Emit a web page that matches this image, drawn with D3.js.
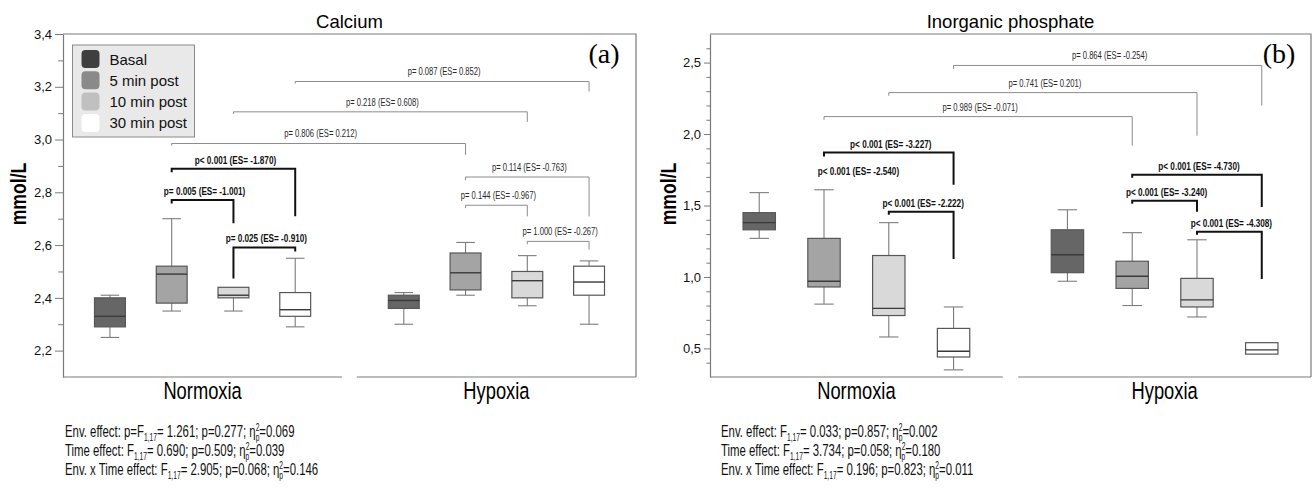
<!DOCTYPE html>
<html>
<head>
<meta charset="utf-8">
<script src="https://cdn.jsdelivr.net/npm/d3@7"></script>
<style>
  body { margin: 0; background: #fff; }
  svg { display: block; font-family: "Liberation Sans", Arial, sans-serif; }
</style>
</head>
<body>
<svg id="fig" width="1313" height="491"></svg>
<script>
const timePoints = ["Basal", "5 min post", "10 min post", "30 min post"];
const conditions = ["Normoxia", "Hypoxia"];

// box stats for each time point: [min, q1, median, q3, max]
const calciumNormoxia = [
  [2.25, 2.29, 2.33, 2.40, 2.41],
  [2.35, 2.38, 2.49, 2.52, 2.70],
  [2.35, 2.40, 2.41, 2.44, 2.44],
  [2.29, 2.33, 2.355, 2.42, 2.55]
];
const calciumHypoxia = [
  [2.30, 2.36, 2.39, 2.41, 2.42],
  [2.41, 2.43, 2.495, 2.57, 2.61],
  [2.37, 2.40, 2.465, 2.50, 2.56],
  [2.30, 2.41, 2.46, 2.52, 2.54]
];
const phosphateNormoxia = [
  [1.27, 1.33, 1.38, 1.45, 1.59],
  [0.81, 0.93, 0.97, 1.27, 1.61],
  [0.58, 0.73, 0.78, 1.15, 1.38],
  [0.35, 0.44, 0.48, 0.64, 0.79]
];
const phosphateHypoxia = [
  [0.97, 1.03, 1.155, 1.33, 1.47],
  [0.80, 0.92, 1.005, 1.11, 1.31],
  [0.72, 0.79, 0.84, 0.99, 1.26],
  [0.46, 0.46, 0.49, 0.54, 0.54]
];

const calciumDomain = [2.1, 3.4];
const calciumTicks = [2.2, 2.4, 2.6, 2.8, 3.0, 3.2, 3.4];
const calciumTickLabels = ["2,2", "2,4", "2,6", "2,8", "3,0", "3,2", "3,4"];
const calciumMinor = [2.3, 2.5, 2.7, 2.9, 3.1, 3.3];

const phosphateDomain = [0.3, 2.7];
const phosphateTicks = [0.5, 1.0, 1.5, 2.0, 2.5];
const phosphateTickLabels = ["0,5", "1,0", "1,5", "2,0", "2,5"];
const phosphateMinor = [0.4, 0.6, 0.7, 0.8, 0.9, 1.1, 1.2, 1.3, 1.4, 1.6, 1.7, 1.8, 1.9,
  2.1, 2.2, 2.3, 2.4, 2.6];

// comparisons: from/to = [condition, time point]; at/left/right = bracket heights (mmol/L)
const calciumBrackets = [
  { from: [0, 3], to: [1, 3], at: 3.220, left: 3.212, right: 3.182, label: "p= 0.087 (ES= 0.852)" },
  { from: [0, 2], to: [1, 2], at: 3.105, left: 3.097, right: 3.067, label: "p= 0.218 (ES= 0.608)" },
  { from: [0, 1], to: [1, 1], at: 2.985, left: 2.977, right: 2.942, label: "p= 0.806 (ES= 0.212)" },
  { from: [0, 1], to: [0, 3], at: 2.889, left: 2.876, right: 2.709, label: "p< 0.001 (ES= -1.870)", bold: true },
  { from: [0, 1], to: [0, 2], at: 2.771, left: 2.758, right: 2.683, label: "p= 0.005 (ES= -1.001)", bold: true },
  { from: [0, 2], to: [0, 3], at: 2.591, left: 2.473, right: 2.576, label: "p= 0.025 (ES= -0.910)", bold: true },
  { from: [1, 1], to: [1, 3], at: 2.858, left: 2.846, right: 2.709, label: "p= 0.114 (ES= -0.763)" },
  { from: [1, 1], to: [1, 2], at: 2.751, left: 2.740, right: 2.709, label: "p= 0.144 (ES= -0.967)" },
  { from: [1, 2], to: [1, 3], at: 2.614, left: 2.603, right: 2.583, label: "p= 1.000 (ES= -0.267)" }
];
const phosphateBrackets = [
  { from: [0, 3], to: [1, 3], at: 2.480, left: 2.455, right: 2.199, label: "p= 0.864 (ES= -0.254)" },
  { from: [0, 2], to: [1, 2], at: 2.290, left: 2.268, right: 1.989, label: "p= 0.741 (ES= 0.201)" },
  { from: [0, 1], to: [1, 1], at: 2.122, left: 2.100, right: 1.919, label: "p= 0.989 (ES= -0.071)" },
  { from: [0, 1], to: [0, 3], at: 1.870, left: 1.842, right: 1.645, label: "p< 0.001 (ES= -3.227)", bold: true },
  { from: [0, 1], to: [0, 2], at: 1.680, label: "p< 0.001 (ES= -2.540)", bold: true, noLine: true },
  { from: [0, 2], to: [0, 3], at: 1.456, left: 1.435, right: 1.126, label: "p< 0.001 (ES= -2.222)", bold: true },
  { from: [1, 1], to: [1, 3], at: 1.715, left: 1.694, right: 1.490, label: "p< 0.001 (ES= -4.730)", bold: true },
  { from: [1, 1], to: [1, 2], at: 1.533, left: 1.512, right: 1.456, label: "p< 0.001 (ES= -3.240)", bold: true },
  { from: [1, 2], to: [1, 3], at: 1.316, left: 1.295, right: 0.986, label: "p< 0.001 (ES= -4.308)", bold: true }
];

// {..} = subscript, [a|b] = stacked super/subscript
const calciumStats = [
  "Env. effect: p=F{1,17}= 1.261; p=0.277; η[2|p]=0.069",
  "Time effect: F{1,17}= 0.690; p=0.509; η[2|p]=0.039",
  "Env. x Time effect: F{1,17}= 2.905; p=0.068; η[2|p]=0.146"
];
const phosphateStats = [
  "Env. effect: F{1,17}= 0.033; p=0.857; η[2|p]=0.002",
  "Time effect: F{1,17}= 3.734; p=0.058; η[2|p]=0.180",
  "Env. x Time effect: F{1,17}= 0.196; p=0.823; η[2|p]=0.011"
];

const boxFills = ["#666666", "#a4a4a4", "#d9d9d9", "#ffffff"];
const legendFills = ["#3f3f3f", "#8a8a8a", "#c0c0c0", "#ffffff"];

const svg = d3.select("#fig");

/**
 * Condensed text: glyphs squeezed horizontally around the anchor
 */
function squeezed(g, x, y, sx, str) {
  return g.append("text")
    .attr("transform", "translate(" + x + "," + y + ") scale(" + sx + ",1)")
    .text(str);
}

/**
 * Write a stats line with sub/superscripts into a text element
 */
function richText(t, line) {
  var shift = 0;
  line.split(/(\{[^}]*\}|\[[^\]]*\])/).forEach((part) => {
    if (!part) return;
    if (part[0] === "{") {
      t.append("tspan").attr("font-size", 10).attr("dy", shift + 4).text(part.slice(1, -1));
      shift = -4;
    } else if (part[0] === "[") {
      const ab = part.slice(1, -1).split("|");
      t.append("tspan").attr("font-size", 10).attr("dy", shift - 6).text(ab[0]);
      t.append("tspan").attr("font-size", 10).attr("dx", -5.6).attr("dy", 10).text(ab[1]);
      shift = -4;
    } else {
      t.append("tspan").attr("dy", shift).text(part);
      shift = 0;
    }
  });
}

/**
 * Draw one panel of the figure
 */
function drawPanel(p) {
  const g = svg.append("g");

  const y = d3.scaleLinear().domain(p.domain).range([p.bottom, p.top]);
  const cond = d3.scaleBand().domain(conditions).range([p.x0, p.x1])
    .paddingInner(0.05).paddingOuter(0);
  const time = d3.scaleBand().domain(timePoints).range([0, cond.bandwidth()])
    .paddingInner(0.5).paddingOuter(0.51);
  const cx = (c, t) => cond(conditions[c]) + time(timePoints[t]) + time.bandwidth() / 2;
  const bw = time.bandwidth();

  // title
  g.append("text")
    .attr("x", (p.x0 + p.x1) / 2).attr("y", 28)
    .attr("text-anchor", "middle")
    .attr("font-size", 18.5)
    .text(p.title);

  // frame: top, right and split bottom
  g.append("path")
    .attr("d", "M" + p.x0 + "," + p.top + "H" + p.x1 + "V" + p.bottom)
    .attr("fill", "none").attr("stroke", "#7a7a7a").attr("stroke-width", 1.2);
  g.selectAll(".base").data(conditions).join("line")
    .attr("x1", (d) => cond(d)).attr("x2", (d) => cond(d) + cond.bandwidth())
    .attr("y1", p.bottom).attr("y2", p.bottom)
    .attr("stroke", "#7a7a7a").attr("stroke-width", 1.2);

  // y axis, major + minor ticks
  const major = d3.axisLeft(y).tickValues(p.ticks)
    .tickFormat((d, i) => p.tickLabels[i])
    .tickSize(p.tickLen).tickSizeOuter(0).tickPadding(3);
  const ax = g.append("g").attr("transform", "translate(" + p.x0 + ",0)").call(major);
  ax.select(".domain").attr("stroke", "#7a7a7a").attr("stroke-width", 1.2);
  ax.selectAll(".tick line").attr("stroke", "#7a7a7a");
  ax.selectAll(".tick text")
    .attr("font-family", "Liberation Sans, Arial, sans-serif")
    .attr("font-size", 13).attr("fill", "#111");
  const minor = d3.axisLeft(y).tickValues(p.minor).tickFormat("")
    .tickSize(p.tickLen * 0.6).tickSizeOuter(0);
  const mx = g.append("g").attr("transform", "translate(" + p.x0 + ",0)").call(minor);
  mx.select(".domain").remove();
  mx.selectAll(".tick line").attr("stroke", "#7a7a7a");

  // y label
  g.append("text")
    .attr("transform", "translate(" + p.labelX + ",194) rotate(-90) scale(0.8,1)")
    .attr("text-anchor", "middle")
    .attr("font-size", 22).attr("font-weight", "bold")
    .text("mmol/L");

  // condition labels
  conditions.forEach((c) => {
    squeezed(g, cond(c) + cond.bandwidth() / 2, 399, 0.78, c)
      .attr("text-anchor", "middle").attr("font-size", 23.5);
  });

  // panel letter
  g.append("text")
    .attr("x", p.x1 - 32).attr("y", 63)
    .attr("text-anchor", "middle")
    .attr("font-family", "Liberation Serif, Times New Roman, serif")
    .attr("font-size", 28)
    .text(p.letter);

  // boxes
  p.series.forEach((rows, c) => {
    rows.forEach((s, t) => {
      const x = cx(c, t);
      const bx = g.append("g");
      const w = bx.append("g").attr("stroke", "#7d7d7d").attr("stroke-width", 1.1);
      if (s[0] < s[1]) {
        w.append("line").attr("x1", x).attr("x2", x).attr("y1", y(s[0])).attr("y2", y(s[1]));
        w.append("line").attr("x1", x - bw * 0.3).attr("x2", x + bw * 0.3)
          .attr("y1", y(s[0])).attr("y2", y(s[0]));
      }
      if (s[4] > s[3]) {
        w.append("line").attr("x1", x).attr("x2", x).attr("y1", y(s[4])).attr("y2", y(s[3]));
        w.append("line").attr("x1", x - bw * 0.3).attr("x2", x + bw * 0.3)
          .attr("y1", y(s[4])).attr("y2", y(s[4]));
      }
      bx.append("rect")
        .attr("x", x - bw / 2).attr("width", bw)
        .attr("y", y(s[3])).attr("height", y(s[1]) - y(s[3]))
        .attr("fill", boxFills[t]).attr("stroke", "#575757").attr("stroke-width", 1.2);
      bx.append("line")
        .attr("x1", x - bw / 2).attr("x2", x + bw / 2)
        .attr("y1", y(s[2])).attr("y2", y(s[2]))
        .attr("stroke", "#3a3a3a").attr("stroke-width", 1.4);
    });
  });

  // comparison brackets
  p.brackets.forEach((b) => {
    const xa = cx(b.from[0], b.from[1]);
    const xb = cx(b.to[0], b.to[1]);
    const yl = y(b.at);
    if (!b.noLine) {
      g.append("path")
        .attr("d", "M" + xa + "," + y(b.left) + "V" + yl + "H" + xb + "V" + y(b.right))
        .attr("fill", "none")
        .attr("stroke", b.bold ? "#111" : "#8c8c8c")
        .attr("stroke-width", b.bold ? 2 : 1);
    }
    squeezed(g, (xa + xb) / 2 + 2, yl - (b.bold ? 5 : 6), b.bold ? 0.78 : 0.72, b.label)
      .attr("text-anchor", "middle")
      .attr("font-size", b.bold ? 10.5 : 10.6)
      .attr("font-weight", b.bold ? "bold" : "normal")
      .attr("fill", b.bold ? "#111" : "#2a2a2a");
  });

  // effects summary under the panel
  p.stats.forEach((line, i) => {
    const t = g.append("text")
      .attr("transform", "translate(" + p.statsX + "," + (436.5 + i * 19) + ") scale(0.67,1)")
      .attr("font-size", 17).attr("fill", "#111");
    richText(t, line);
  });

  return g;
}

drawPanel({
  title: "Calcium", letter: "(a)",
  x0: 63, x1: 636, top: 34, bottom: 377, tickLen: 8, labelX: 26, statsX: 65,
  domain: calciumDomain, ticks: calciumTicks, tickLabels: calciumTickLabels, minor: calciumMinor,
  series: [calciumNormoxia, calciumHypoxia],
  brackets: calciumBrackets, stats: calciumStats
});

drawPanel({
  title: "Inorganic phosphate", letter: "(b)",
  x0: 710, x1: 1311, top: 34, bottom: 377, tickLen: 6, labelX: 676, statsX: 721,
  domain: phosphateDomain, ticks: phosphateTicks, tickLabels: phosphateTickLabels, minor: phosphateMinor,
  series: [phosphateNormoxia, phosphateHypoxia],
  brackets: phosphateBrackets, stats: phosphateStats
});

// legend inside the calcium panel
const legend = svg.append("g").attr("transform", "translate(72.5,45)");
legend.append("rect")
  .attr("width", 122).attr("height", 92)
  .attr("fill", "#e9e9e9").attr("stroke", "#8a8a8a").attr("stroke-width", 1);
const item = legend.selectAll(".item").data(timePoints).join("g")
  .attr("transform", (d, i) => "translate(9," + (5 + i * 21.3) + ")");
item.append("rect")
  .attr("width", 18).attr("height", 18).attr("rx", 4)
  .attr("fill", (d, i) => legendFills[i]);
item.append("text")
  .attr("x", 28).attr("y", 14.5)
  .attr("font-size", 15).attr("fill", "#111")
  .text((d) => d);
</script>
</body>
</html>
